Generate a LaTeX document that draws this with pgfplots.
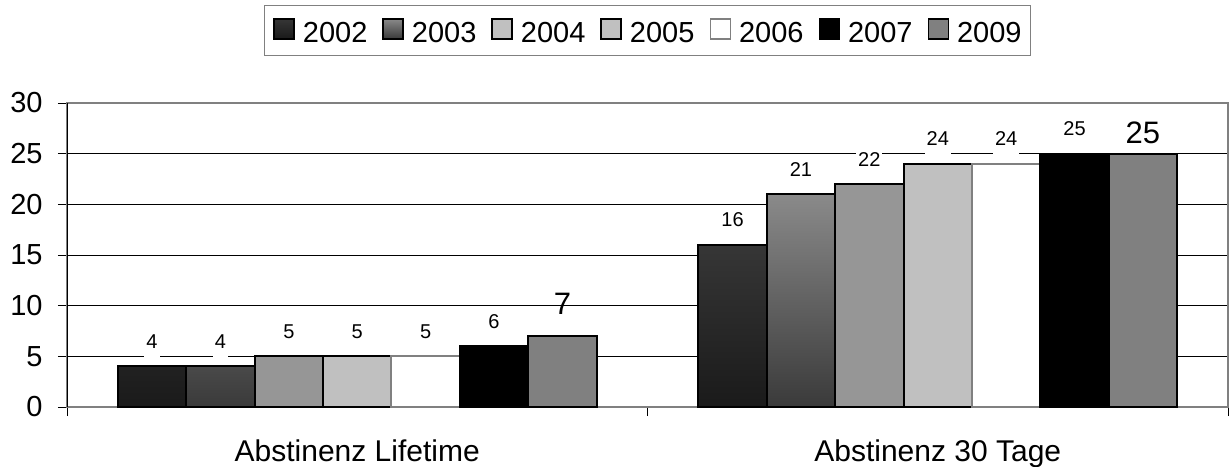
\documentclass[border=0pt]{standalone}
\usepackage{fontspec}
\setmainfont{Liberation Sans}
\usepackage{pgfplots}
\pgfplotsset{compat=1.18}
\usepackage{pgfplotstable}

\definecolor{c02a}{HTML}{363636}
\definecolor{c02b}{HTML}{1A1A1A}
\definecolor{c03a}{HTML}{8A8A8A}
\definecolor{c03b}{HTML}{3A3A3A}
\definecolor{c04}{HTML}{969696}
\definecolor{c05}{HTML}{C0C0C0}
\definecolor{c06}{HTML}{808080}
\definecolor{c09}{HTML}{808080}

\newcommand\mainfont{\fontsize{14.5}{17}\selectfont}
\newcommand\catfont{\fontsize{15}{18}\selectfont}
\newcommand\labfont{\fontsize{10}{12}\selectfont}
\newcommand\biglabfont{\fontsize{15.5}{18}\selectfont}

% 2009 has larger labels, placed at different heights
\pgfplotstableread{
x y s
0 7 6
1 25 -0.1
}\tabNine

\begin{document}
\begin{tikzpicture}
\useasboundingbox (-33.5pt,-29.5pt) rectangle (581.5pt,203.5pt);
\begin{axis}[
    scale only axis,
    width=580.5pt, height=152pt,
    ybar=0pt, bar width=34.2pt,
    xmin=-0.5, xmax=1.5,
    ymin=0, ymax=30,
    xtick={-0.5,0.5,1.5},
    x tick label as interval,
    xticklabels={Abstinenz Lifetime,Abstinenz 30 Tage},
    ytick={0,5,...,30},
    tick pos=left,
    tick align=outside,
    major tick length=4.5pt,
    tick style={black, line width=0.5pt},
    axis line style={c06, line width=0.75pt},
    ymajorgrids=true,
    grid style={black, line width=0.5pt},
    font=\mainfont,
    /pgf/number format/assume math mode=true,
    xticklabel style={font=\catfont, inner sep=0pt, yshift=-11.5pt},
    yticklabel style={font=\mainfont, inner sep=0pt, xshift=-7.5pt},
    legend image code/.code={\draw[#1, line width=0.75pt] (0pt,-3pt) rectangle (10pt,7pt);},
    legend style={
        at={(0.5,1)}, anchor=north, yshift=49pt,
        legend columns=-1, draw=c06, line width=0.5pt,
        inner xsep=4.5pt, inner ysep=6.3pt,
        font=\mainfont,
        nodes={inner sep=0pt, text depth=0pt},
        /tikz/every odd column/.append style={column sep=4pt},
        /tikz/every even column/.append style={column sep=7.5pt},
    },
    nodes near coords,
    every node near coord/.append style={
        font=\labfont, fill=white, inner sep=1pt, text depth=4pt,
        anchor=south, yshift=3.5pt},
]
\addplot[draw=black, line width=1pt, top color=c02a, bottom color=c02b]
    coordinates {(0,4) (1,16)};
\addplot[draw=black, line width=1pt, top color=c03a, bottom color=c03b]
    coordinates {(0,4) (1,21)};
\addplot[draw=black, line width=1pt, fill=c04, legend image post style={fill=c05}]
    coordinates {(0,5) (1,22)};
\addplot[draw=black, line width=1pt, fill=c05]
    coordinates {(0,5) (1,24)};
\addplot[draw=c06, line width=1pt, fill=white]
    coordinates {(0,5) (1,24)};
\addplot[draw=black, line width=1pt, fill=black]
    coordinates {(0,6) (1,25)};
\addplot[draw=black, line width=1pt, fill=c09,
    visualization depends on={\thisrow{s} \as \lshift},
    every node near coord/.append style={font=\biglabfont, fill=none, text depth=0pt, yshift=\lshift pt}]
    table[x=x, y=y] {\tabNine};
\legend{2002,2003,2004,2005,2006,2007,2009}
\draw[black, line width=0.75pt] (rel axis cs:0,0) -- (rel axis cs:0,1);
\end{axis}
\end{tikzpicture}
\end{document}
